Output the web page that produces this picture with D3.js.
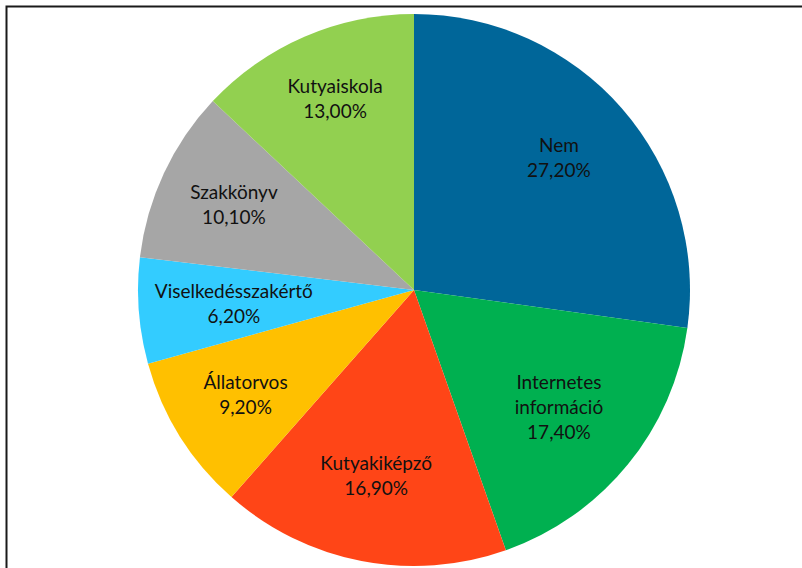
<!DOCTYPE html>
<html>
<head>
<meta charset="utf-8">
<script src="https://cdn.jsdelivr.net/npm/d3@7"></script>
<style>
  body { margin: 0; background: #fff; }
  svg { display: block; }
</style>
</head>
<body>
<svg id="chart"></svg>
<script>
// slices, clockwise from 12 o'clock
const categories = ["Nem", "Internetes információ", "Kutyakiképző", "Állatorvos", "Viselkedésszakértő", "Szakkönyv", "Kutyaiskola"];
const values = [27.2, 17.4, 16.9, 9.2, 6.2, 10.1, 13.0];
const colors = ["#006699", "#00B050", "#FF4517", "#FFC000", "#33CCFF", "#A6A6A6", "#92D050"];
// label text broken into lines like in the original
const labelLines = [["Nem"], ["Internetes", "információ"], ["Kutyakiképző"], ["Állatorvos"], ["Viselkedésszakértő"], ["Szakkönyv"], ["Kutyaiskola"]];
// small hand nudges of the labels (excel "best fit" placement)
const labelNudge = [[-5, -1], [-9, -8], [0, -9], [0, 0], [18, 0], [0, 0], [0, -8]];

const width = 802;
const height = 568;
const cx = 414, cy = 290, radius = 276;
const format = v => v.toFixed(2).replace(".", ",") + "%";

const svg = d3.select("#chart")
    .attr("width", width)
    .attr("height", height)
    .style("font", "19px Lato, sans-serif");

// outer frame (only left and top show)
svg.append("rect")
    .attr("x", 6.5).attr("y", 6.5)
    .attr("width", 820).attr("height", 600)
    .attr("fill", "none")
    .attr("stroke", "#1a1a1a")
    .attr("stroke-width", 2);

const data = categories.map((c, i) => ({ name: c, value: values[i], lines: labelLines[i], color: colors[i], nudge: labelNudge[i] }));

const pie = d3.pie().sort(null).value(d => d.value);
const arc = d3.arc().innerRadius(0).outerRadius(radius);
const labelArc = d3.arc().innerRadius(radius * 0.72).outerRadius(radius * 0.72);

const g = svg.append("g").attr("transform", `translate(${cx},${cy})`);
const arcs = pie(data);

g.selectAll("path")
    .data(arcs)
    .join("path")
    .attr("d", arc)
    .attr("fill", d => d.data.color);

const lineH = 25;
const text = g.selectAll("text")
    .data(arcs)
    .join("text")
    .attr("text-anchor", "middle")
    .attr("fill", "#111")
    .attr("transform", d => {
        const c = labelArc.centroid(d);
        return `translate(${c[0] + d.data.nudge[0]},${c[1] + d.data.nudge[1]})`;
    });

text.each(function (d) {
    const lines = d.data.lines.concat([format(d.data.value)]);
    const t = d3.select(this);
    const y0 = -(lines.length - 1) * lineH / 2 + 6;
    lines.forEach((l, i) => {
        t.append("tspan").attr("x", 0).attr("y", y0 + i * lineH).text(l);
    });
});
</script>
</body>
</html>
